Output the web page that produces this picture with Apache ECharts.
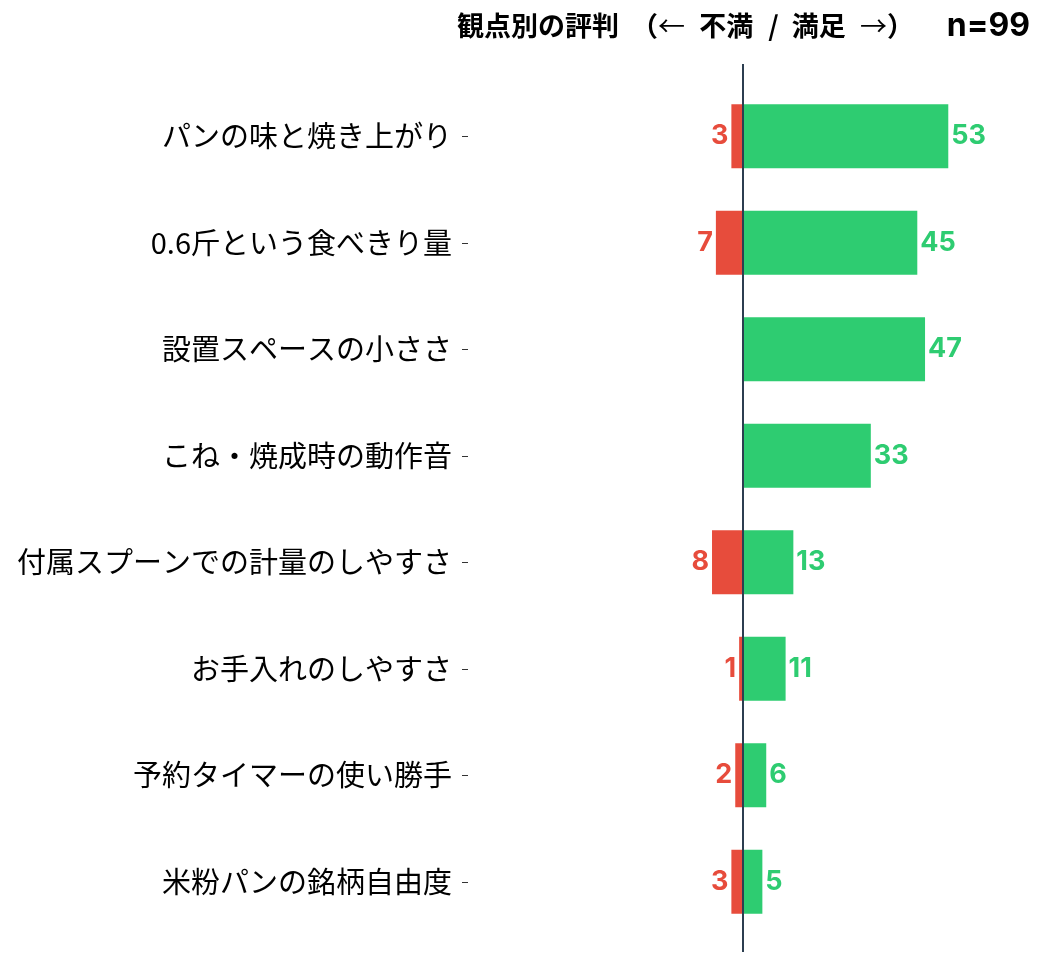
<!DOCTYPE html>
<html>
<head>
<meta charset="utf-8">
<script src="https://cdn.jsdelivr.net/npm/echarts@6/dist/echarts.min.js"></script>
<style>
    html, body { margin: 0; padding: 0; background: #fff; }
    #container { width: 1046px; height: 969px; }
</style>
</head>
<body>
<div id="container"></div>
<script>
// 観点別の評判データ
var categories = ['パンの味と焼き上がり', '0.6斤という食べきり量', '設置スペースの小ささ', 'こね・焼成時の動作音',
    '付属スプーンでの計量のしやすさ', 'お手入れのしやすさ', '予約タイマーの使い勝手', '米粉パンの銘柄自由度'];
var dissatisfied = [3, 7, 0, 0, 8, 1, 2, 3];
var satisfied = [53, 45, 47, 33, 13, 11, 6, 5];
var sampleSize = 99;

var RED = '#e74c3c', GREEN = '#2ecc71', LINE = '#2c3e50';
var JP = '"Noto Sans CJK JP", sans-serif';
var NUM = 'Inter, "Noto Sans", sans-serif';

var negData = dissatisfied.map(function (v) { return v > 0 ? -v : null; });

function pad(left) {
    return { fontFamily: JP, fontSize: 27, fontWeight: 'bold', color: '#000', padding: [0, 0, 0, left] };
}
function arrow(left) {
    return { fontFamily: JP, fontSize: 27, fontWeight: 'normal', color: '#000', padding: [0, 0, 0, left] };
}

var myChart = echarts.init(document.getElementById('container'));
var option = {
    animation: false,
    title: [
        {
            text: '{a|観点別の評判}{p|（}{l|←}{m| 不満 }{s|/}{n| 満足 }{r|→}{a|）}',
            left: 452, top: 7,
            textStyle: {
                rich: {
                    a: pad(0), p: pad(12), l: arrow(0), m: pad(8),
                    s: pad(9), n: pad(7), r: arrow(8)
                }
            }
        },
        {
            text: 'n=' + sampleSize,
            right: 11, top: 5,
            textStyle: { fontFamily: NUM, fontSize: 32, fontWeight: 'bold', color: '#000' }
        }
    ],
    grid: [
        { left: 468, right: 28, top: 83, bottom: 34 },
        { left: 468, right: 28, top: 64, bottom: 17 }
    ],
    xAxis: [
        { gridIndex: 0, type: 'value', min: -71, max: 71, show: false },
        { gridIndex: 1, type: 'value', min: -71, max: 71, show: false }
    ],
    yAxis: [
        {
            gridIndex: 0,
            type: 'category',
            inverse: true,
            data: categories,
            axisLine: { show: false, onZero: false },
            axisTick: { show: true, alignWithLabel: true, length: 6, lineStyle: { color: '#333' } },
            axisLabel: { fontFamily: JP, fontSize: 29, color: '#000', margin: 16 },
            splitLine: { show: false }
        },
        { gridIndex: 1, type: 'value', min: 0, max: 1, show: false }
    ],
    series: [
        {
            name: '不満',
            type: 'bar',
            stack: 'total',
            barWidth: 64,
            data: negData,
            itemStyle: { color: RED },
            label: {
                show: true,
                position: 'left',
                distance: 3,
                color: RED,
                fontFamily: NUM,
                fontSize: 27,
                fontWeight: 'bold',
                formatter: function (p) { return Math.abs(p.value); }
            }
        },
        {
            name: '満足',
            type: 'bar',
            stack: 'total',
            barWidth: 64,
            data: satisfied,
            itemStyle: { color: GREEN },
            label: {
                show: true,
                position: 'right',
                distance: 3,
                color: GREEN,
                fontFamily: NUM,
                fontSize: 27,
                fontWeight: 'bold'
            }
        },
        {
            // ゼロ基準線
            type: 'line',
            xAxisIndex: 1,
            yAxisIndex: 1,
            data: [[0, 0], [0, 1]],
            symbol: 'none',
            z: 5,
            lineStyle: { color: LINE, width: 2 }
        }
    ]
};
myChart.setOption(option);
</script>
</body>
</html>
